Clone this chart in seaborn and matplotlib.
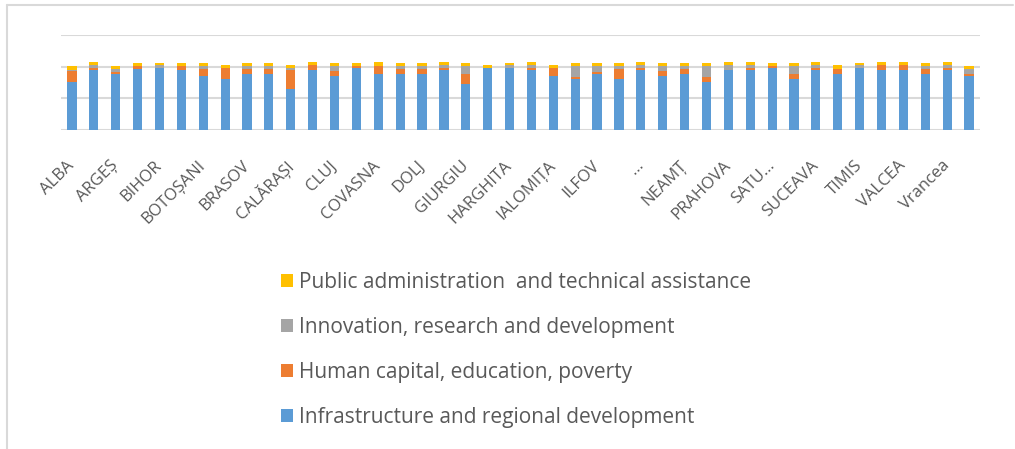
import pandas as pd
import seaborn as sns
import matplotlib.pyplot as plt
from matplotlib.patches import Patch
from matplotlib.lines import Line2D

sns.set_style('white')
plt.rcParams['font.family'] = ['Open Sans', 'DejaVu Sans']

# 데이터
counties = ['ALBA', 'ARAD', 'ARGEȘ', 'BACĂU', 'BIHOR', 'BISTRIȚA-NĂSĂUD', 'BOTOȘANI', 'BRĂILA',
            'BRASOV', 'BUZĂU', 'CALĂRAȘI', 'CARAȘ-SEVERIN', 'CLUJ', 'CONSTANȚA', 'COVASNA',
            'DÂMBOVIȚA', 'DOLJ', 'GALAȚI', 'GIURGIU', 'GORJ', 'HARGHITA', 'HUNEDOARA',
            'IALOMIȚA', 'IAȘI', 'ILFOV', 'MARAMUREȘ', 'MEHEDINȚI', 'MUREȘ', 'NEAMȚ', 'OLT',
            'PRAHOVA', 'SĂLAJ', 'SATU MARE', 'SIBIU', 'SUCEAVA', 'TELEORMAN', 'TIMIS', 'TULCEA',
            'VALCEA', 'VASLUI', 'Vrancea', 'BUCUREȘTI']
tick_labels = ['ALBA', 'ARGEȘ', 'BIHOR', 'BOTOȘANI', 'BRASOV', 'CALĂRAȘI', 'CLUJ', 'COVASNA',
               'DOLJ', 'GIURGIU', 'HARGHITA', 'IALOMIȚA', 'ILFOV', '…', 'NEAMȚ', 'PRAHOVA',
               'SATU…', 'SUCEAVA', 'TIMIS', 'VALCEA', 'Vrancea']

infra = [76, 94, 88, 97, 98, 94, 85, 80, 88, 88, 64, 94, 85, 98, 88, 88, 88, 94, 72, 98, 98,
         94, 85, 80, 88, 80, 94, 85, 88, 76, 94, 94, 98, 80, 94, 88, 98, 94, 94, 88, 94, 85]
human = [17, 4, 4, 4, 0, 7, 12, 18, 9, 9, 30, 8, 8, 3, 13, 9, 9, 4, 16, 0, 0,
         4, 13, 4, 4, 17, 4, 8, 9, 8, 0, 4, 3, 9, 4, 9, 0, 8, 8, 9, 4, 4]
innov = [1, 4, 4, 0, 4, 0, 4, 0, 4, 4, 4, 0, 8, 0, 0, 4, 4, 4, 13, 0, 4,
         4, 0, 17, 9, 4, 4, 8, 4, 17, 8, 4, 0, 12, 4, 0, 4, 0, 0, 4, 4, 8]
public = [7, 5, 5, 5, 4, 5, 5, 4, 5, 5, 4, 5, 5, 5, 6, 5, 5, 5, 5, 4, 4,
          5, 4, 5, 5, 5, 5, 5, 5, 5, 5, 5, 5, 5, 5, 5, 4, 5, 5, 5, 5, 4]

series = ['Infrastructure and regional development',
          'Human capital, education, poverty',
          'Innovation, research and development',
          'Public administration  and technical assistance']
colors = ['#5B9BD5', '#ED7D31', '#A5A5A5', '#FFC000']

df = pd.DataFrame({'county': counties, series[0]: infra, series[1]: human,
                   series[2]: innov, series[3]: public})

# 누적값 (위에서부터 겹쳐 그리기)
cum = df[series].cumsum(axis=1)

fig = plt.figure(figsize=(10.15, 4.49), dpi=100)
ax = fig.add_axes([0.0601, 0.7105, 0.9054, 0.2116])

for s, c in reversed(list(zip(series, colors))):
    sns.barplot(x=df['county'], y=cum[s], color=c, width=0.42, saturation=1,
                order=counties, ax=ax, zorder=3, linewidth=0, edgecolor='none')

ax.set_ylim(0, 150)
ax.set_yticks([0, 50, 100, 150])
ax.set_yticklabels([])
ax.set_xlim(-0.5, len(counties) - 0.5)
ax.grid(True, axis='y', color='#d9d9d9', linewidth=1.5, zorder=0)
ax.set_axisbelow(True)
sns.despine(ax=ax, left=True, bottom=True, top=True, right=True)
ax.set_xlabel('')
ax.set_ylabel('')

ax.set_xticks(range(0, len(counties), 2))
ax.tick_params(axis='x', length=0, pad=24)
ax.tick_params(axis='y', length=0)
ax.set_xticklabels(tick_labels, rotation=45, ha='right', va='center',
                   rotation_mode='anchor', fontsize=12, color='#595959')

# 범례 (역순)
handles = [Patch(facecolor=c, edgecolor='none') for c in colors][::-1]
fig.legend(handles, series[::-1], loc='upper left', bbox_to_anchor=(0.277, 0.395),
           frameon=False, fontsize=15, labelcolor='#595959',
           handlelength=0.58, handleheight=0.58, handletextpad=0.3,
           labelspacing=1.15, borderpad=0, borderaxespad=0)

# 바깥 테두리
fig.add_artist(Line2D([0.007, 0.998], [0.989, 0.989], color='#d9d9d9', lw=1.5,
                      transform=fig.transFigure))
fig.add_artist(Line2D([0.007, 0.007], [0.0, 0.989], color='#d9d9d9', lw=1.5,
                      transform=fig.transFigure))

fig.savefig('out.png', dpi=100)
